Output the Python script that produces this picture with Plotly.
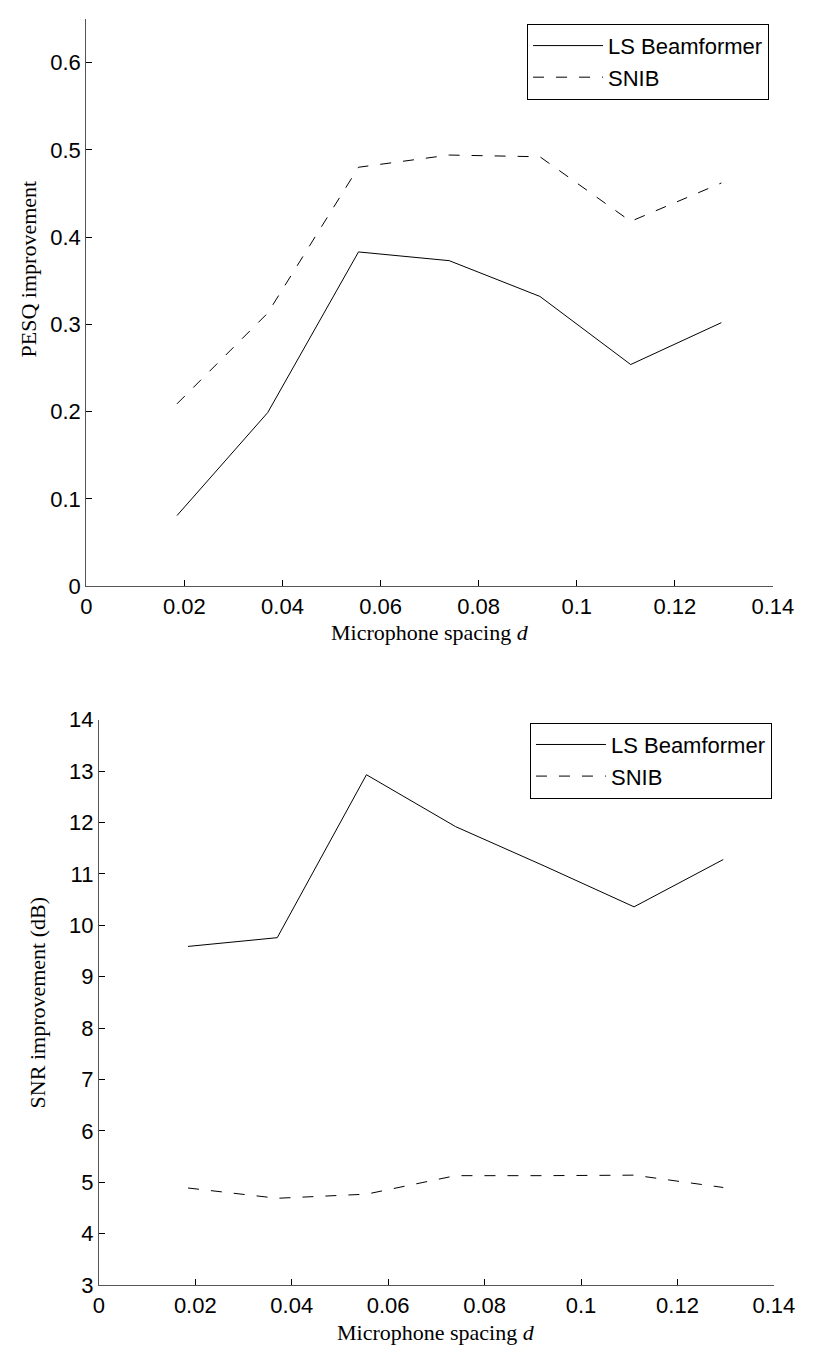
import plotly.graph_objects as go

# ---- data ----
spacing = [0.0185, 0.037, 0.0555, 0.074, 0.0925, 0.111, 0.1295]
pesq_ls = [0.081, 0.199, 0.383, 0.373, 0.332, 0.254, 0.302]
pesq_snib = [0.209, 0.313, 0.480, 0.494, 0.492, 0.418, 0.462]
snr_ls = [9.59, 9.76, 12.93, 11.92, 11.15, 10.36, 11.28]
snr_snib = [4.89, 4.69, 4.77, 5.13, 5.13, 5.14, 4.90]

series_names = ["LS Beamformer", "SNIB"]
x_ticks = [0, 0.02, 0.04, 0.06, 0.08, 0.1, 0.12, 0.14]
x_ticklabels = ["0", "0.02", "0.04", "0.06", "0.08", "0.1", "0.12", "0.14"]
pesq_ticks = [0, 0.1, 0.2, 0.3, 0.4, 0.5, 0.6]
pesq_ticklabels = ["0", "0.1", "0.2", "0.3", "0.4", "0.5", "0.6"]
snr_ticks = list(range(3, 15))
snr_ticklabels = [str(v) for v in snr_ticks]

W, H = 821, 1359
SANS = "Liberation Sans, Arial, sans-serif"
SERIF = "Liberation Serif, Times New Roman, serif"
DASH = "11px,12px"

fig = go.Figure()

# top panel
fig.add_trace(go.Scatter(x=spacing, y=pesq_ls, mode="lines", name=series_names[0],
                         line=dict(color="black", width=1), xaxis="x", yaxis="y",
                         legend="legend"))
fig.add_trace(go.Scatter(x=spacing, y=pesq_snib, mode="lines", name=series_names[1],
                         line=dict(color="black", width=1, dash=DASH), xaxis="x", yaxis="y",
                         legend="legend"))
# bottom panel
fig.add_trace(go.Scatter(x=spacing, y=snr_ls, mode="lines", name=series_names[0],
                         line=dict(color="black", width=1), xaxis="x2", yaxis="y2",
                         legend="legend2"))
fig.add_trace(go.Scatter(x=spacing, y=snr_snib, mode="lines", name=series_names[1],
                         line=dict(color="black", width=1, dash=DASH), xaxis="x2", yaxis="y2",
                         legend="legend2"))

axis_common = dict(showline=True, linecolor="#555", linewidth=1, ticks="inside",
                   ticklen=6, tickcolor="black", tickwidth=1, showgrid=False,
                   zeroline=False, mirror=False,
                   tickfont=dict(family=SANS, size=22, color="black"))

legend_common = dict(xanchor="right", yanchor="top",
                     bordercolor="black", borderwidth=1, bgcolor="white",
                     font=dict(family=SANS, size=22, color="black"),
                     itemwidth=70, tracegroupgap=0)

fig.update_layout(
    width=W, height=H,
    margin=dict(l=0, r=0, t=0, b=0),
    paper_bgcolor="white", plot_bgcolor="white",
    showlegend=True,
    xaxis=dict(domain=[83 / W, 793 / W], range=[0, 0.14], tickvals=x_ticks,
               ticktext=x_ticklabels, anchor="y", **axis_common),
    yaxis=dict(domain=[1 - 585 / H, 1 - 7 / H], range=[0, 0.65], tickvals=pesq_ticks,
               ticktext=pesq_ticklabels, anchor="x", **axis_common),
    xaxis2=dict(domain=[96 / W, 794 / W], range=[0, 0.14], tickvals=x_ticks,
                ticktext=x_ticklabels, anchor="y2", **axis_common),
    yaxis2=dict(domain=[1 - 1297 / H, 1 - 721 / H], range=[3, 14], tickvals=snr_ticks,
                ticktext=snr_ticklabels, anchor="x2", **axis_common),
    legend=dict(x=789 / W, y=1 - 12 / H, **legend_common),
    legend2=dict(x=792 / W, y=1 - 724 / H, **legend_common),
)

# axis titles (serif, LaTeX-like)
title_font = dict(family=SERIF, size=22, color="black")
fig.add_annotation(text="Microphone spacing <i>d</i>", xref="paper", yref="paper",
                   x=(83 + 793) / 2 / W, y=1 - 632 / H, showarrow=False,
                   font=title_font, xanchor="center", yanchor="middle")
fig.add_annotation(text="Microphone spacing <i>d</i>", xref="paper", yref="paper",
                   x=(96 + 794) / 2 / W, y=1 - 1345 / H, showarrow=False,
                   font=title_font, xanchor="center", yanchor="middle")
fig.add_annotation(text="PESQ improvement", xref="paper", yref="paper",
                   x=23 / W, y=1 - 262 / H, showarrow=False, textangle=-90,
                   font=title_font, xanchor="center", yanchor="middle")
fig.add_annotation(text="SNR improvement (dB)", xref="paper", yref="paper",
                   x=32 / W, y=1 - 1009 / H, showarrow=False, textangle=-90,
                   font=title_font, xanchor="center", yanchor="middle")

fig.write_html("out.html")
